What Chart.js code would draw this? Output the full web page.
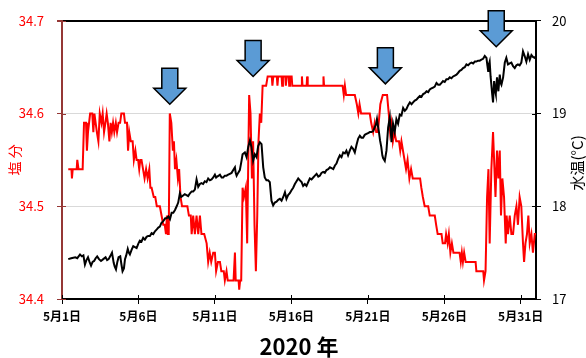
<!DOCTYPE html>
<html>
<head>
<meta charset="utf-8">
<script src="https://cdn.jsdelivr.net/npm/chart.js@4.4.0/dist/chart.umd.min.js"></script>
<style>
  html, body { margin: 0; padding: 0; background: #fff; }
</style>
</head>
<body>
<canvas id="chart" width="586" height="358"></canvas>
<script>
// days since 5/1 00:00, value
const salinity = [
  [0.41,34.54],[0.62,34.54],[0.65,34.53],[0.70,34.54],[0.96,34.54],[1.00,34.55],[1.08,34.54],[1.35,34.54],
  [1.44,34.59],[1.57,34.59],[1.63,34.56],[1.70,34.58],[1.84,34.60],[1.98,34.60],[2.05,34.58],[2.12,34.60],
  [2.20,34.59],[2.28,34.58],[2.38,34.57],[2.47,34.60],[2.58,34.59],[2.66,34.60],[2.75,34.58],[2.84,34.59],
  [2.92,34.60],[3.00,34.59],[3.10,34.57],[3.18,34.59],[3.26,34.58],[3.34,34.59],[3.42,34.58],[3.52,34.59],
  [3.60,34.58],[3.70,34.59],[3.80,34.59],[3.88,34.60],[4.05,34.60],[4.12,34.59],[4.25,34.59],[4.32,34.56],
  [4.40,34.58],[4.50,34.57],[4.62,34.57],[4.70,34.55],[4.80,34.56],[4.88,34.55],[4.98,34.55],[5.05,34.54],
  [5.12,34.55],[5.20,34.55],[5.30,34.54],[5.40,34.53],[5.50,34.54],[5.60,34.53],[5.71,34.54],[5.78,34.52],
  [5.86,34.52],[6.00,34.51],[6.10,34.51],[6.20,34.50],[6.40,34.50],[6.51,34.49],[6.62,34.48],[6.72,34.48],
  [6.80,34.47],[6.86,34.49],[6.92,34.47],[6.98,34.47],[7.05,34.60],[7.15,34.59],[7.25,34.56],[7.32,34.57],
  [7.39,34.54],[7.48,34.55],[7.58,34.53],[7.66,34.54],[7.75,34.51],[7.85,34.50],[8.20,34.50],[8.30,34.49],
  [8.42,34.49],[8.48,34.47],[8.58,34.49],[8.69,34.47],[8.80,34.49],[8.91,34.47],[9.02,34.49],[9.12,34.47],
  [9.30,34.47],[9.46,34.46],[9.56,34.44],[9.66,34.45],[9.76,34.44],[9.89,34.45],[10.00,34.45],[10.08,34.43],
  [10.20,34.44],[10.33,34.44],[10.42,34.43],[10.58,34.43],[10.65,34.42],[10.76,34.43],[10.84,34.42],[11.22,34.42],
  [11.31,34.45],[11.36,34.42],[11.55,34.42],[11.59,34.41],[11.65,34.42],[11.72,34.42],[11.81,34.52],[11.90,34.51],
  [12.02,34.52],[12.11,34.46],[12.24,34.62],[12.33,34.60],[12.42,34.53],[12.50,34.57],[12.59,34.48],[12.68,34.43],
  [12.77,34.49],[12.85,34.57],[12.94,34.60],[13.03,34.59],[13.12,34.63],[13.35,34.63],[13.45,34.64],[13.72,34.64],
  [13.76,34.63],[13.82,34.64],[14.05,34.64],[14.09,34.63],[14.14,34.64],[14.36,34.64],[14.40,34.63],[14.45,34.64],
  [14.60,34.64],[14.64,34.63],[14.69,34.64],[14.82,34.64],[14.86,34.63],[14.91,34.64],[15.02,34.64],[15.06,34.63],
  [15.66,34.63],[15.69,34.64],[15.73,34.63],[16.00,34.63],[16.03,34.64],[16.07,34.63],[17.07,34.63],[17.10,34.64],
  [17.14,34.63],[18.35,34.63],[18.43,34.62],[18.50,34.63],[18.58,34.62],[19.15,34.62],[19.28,34.61],[19.38,34.60],
  [19.46,34.61],[19.56,34.60],[20.13,34.60],[20.22,34.59],[20.35,34.58],[20.45,34.59],[20.55,34.58],[20.66,34.58],
  [20.82,34.61],[20.98,34.62],[21.10,34.62],[21.26,34.62],[21.37,34.60],[21.46,34.58],[21.55,34.59],[21.64,34.57],
  [21.74,34.58],[21.86,34.57],[22.04,34.57],[22.12,34.56],[22.20,34.57],[22.30,34.56],[22.40,34.55],[22.50,34.54],
  [22.60,34.55],[22.72,34.53],[22.83,34.54],[22.94,34.53],[23.42,34.53],[23.50,34.52],[23.60,34.51],[23.72,34.50],
  [23.95,34.50],[24.05,34.49],[24.38,34.49],[24.47,34.48],[24.57,34.47],[24.82,34.47],[24.90,34.46],[25.05,34.46],
  [25.12,34.47],[25.22,34.46],[25.30,34.47],[25.40,34.45],[25.50,34.46],[25.60,34.45],[26.00,34.45],[26.08,34.44],
  [26.15,34.45],[26.22,34.44],[26.30,34.45],[26.40,34.44],[27.05,34.44],[27.10,34.43],[27.55,34.43],[27.60,34.42],
  [27.70,34.43],[27.80,34.51],[27.89,34.54],[27.97,34.46],[28.08,34.54],[28.19,34.58],[28.26,34.55],[28.35,34.51],
  [28.45,34.56],[28.54,34.53],[28.63,34.56],[28.71,34.49],[28.80,34.53],[28.91,34.51],[29.02,34.46],[29.08,34.49],
  [29.17,34.47],[29.28,34.49],[29.39,34.47],[29.50,34.47],[29.61,34.49],[29.72,34.50],[29.82,34.48],[29.93,34.51],
  [30.04,34.50],[30.15,34.46],[30.22,34.44],[30.31,34.46],[30.41,34.47],[30.50,34.49],[30.59,34.46],[30.70,34.47],
  [30.80,34.45],[30.92,34.47],[31.00,34.47]
];

const waterTemp = [
  [0.41,17.43],[0.60,17.44],[0.87,17.45],[1.00,17.44],[1.18,17.48],[1.30,17.46],[1.40,17.47],[1.50,17.37],
  [1.60,17.42],[1.70,17.45],[1.80,17.40],[1.90,17.36],[2.00,17.40],[2.10,17.41],[2.20,17.44],[2.30,17.46],
  [2.42,17.43],[2.55,17.41],[2.70,17.43],[2.85,17.45],[2.95,17.42],[3.05,17.43],[3.15,17.46],[3.27,17.50],
  [3.38,17.39],[3.45,17.35],[3.53,17.32],[3.62,17.40],[3.70,17.45],[3.81,17.46],[3.88,17.38],[3.96,17.30],
  [4.05,17.33],[4.12,17.43],[4.20,17.47],[4.30,17.54],[4.37,17.50],[4.44,17.48],[4.55,17.53],[4.66,17.57],
  [4.77,17.56],[4.88,17.55],[5.00,17.60],[5.09,17.63],[5.20,17.62],[5.31,17.66],[5.42,17.64],[5.53,17.67],
  [5.64,17.68],[5.75,17.68],[5.86,17.71],[5.97,17.70],[6.08,17.73],[6.20,17.75],[6.30,17.77],[6.40,17.78],
  [6.50,17.82],[6.62,17.84],[6.75,17.87],[6.85,17.87],[6.95,17.89],[7.06,17.86],[7.17,17.93],[7.28,17.93],
  [7.39,17.96],[7.50,18.00],[7.60,18.04],[7.71,18.14],[7.80,18.10],[7.88,18.11],[8.03,18.13],[8.14,18.12],
  [8.25,18.11],[8.37,18.14],[8.48,18.16],[8.58,18.16],[8.69,18.18],[8.80,18.29],[8.91,18.21],[9.02,18.24],
  [9.12,18.25],[9.23,18.24],[9.34,18.27],[9.45,18.26],[9.56,18.30],[9.67,18.28],[9.78,18.29],[9.89,18.31],
  [10.00,18.34],[10.08,18.31],[10.15,18.32],[10.25,18.33],[10.33,18.34],[10.44,18.31],[10.54,18.31],[10.65,18.33],
  [10.76,18.33],[10.87,18.34],[10.98,18.35],[11.09,18.36],[11.20,18.39],[11.31,18.42],[11.36,18.36],[11.42,18.33],
  [11.52,18.36],[11.63,18.39],[11.74,18.49],[11.81,18.56],[11.96,18.58],[12.07,18.53],[12.18,18.64],[12.29,18.71],
  [12.39,18.64],[12.50,18.49],[12.61,18.56],[12.72,18.53],[12.83,18.65],[12.94,18.69],[13.05,18.67],[13.16,18.42],
  [13.26,18.31],[13.37,18.28],[13.48,18.28],[13.59,18.26],[13.70,18.06],[13.81,18.01],[13.92,18.04],[14.03,18.05],
  [14.14,18.07],[14.25,18.08],[14.36,18.06],[14.47,18.10],[14.58,18.15],[14.68,18.08],[14.79,18.12],[14.90,18.14],
  [15.00,18.17],[15.12,18.20],[15.23,18.24],[15.34,18.27],[15.45,18.30],[15.56,18.28],[15.67,18.26],[15.77,18.22],
  [15.88,18.24],[15.99,18.22],[16.10,18.26],[16.21,18.30],[16.32,18.29],[16.43,18.31],[16.54,18.33],[16.65,18.35],
  [16.76,18.32],[16.86,18.33],[16.97,18.36],[17.08,18.37],[17.19,18.36],[17.30,18.39],[17.41,18.40],[17.52,18.42],
  [17.63,18.41],[17.74,18.40],[17.85,18.44],[17.95,18.46],[18.06,18.51],[18.17,18.55],[18.28,18.53],[18.39,18.58],
  [18.50,18.57],[18.60,18.60],[18.71,18.55],[18.82,18.60],[18.93,18.64],[19.04,18.62],[19.15,18.58],[19.26,18.66],
  [19.37,18.73],[19.48,18.76],[19.58,18.74],[19.69,18.74],[19.80,18.77],[19.91,18.78],[20.02,18.79],[20.13,18.80],
  [20.24,18.80],[20.35,18.81],[20.45,18.85],[20.53,18.88],[20.60,18.94],[20.66,18.87],[20.72,18.81],[20.80,18.71],
  [20.88,18.64],[20.95,18.55],[21.00,18.52],[21.11,18.49],[21.22,18.60],[21.33,18.85],[21.44,18.96],[21.55,18.69],
  [21.65,18.89],[21.76,18.80],[21.87,18.94],[21.98,18.89],[22.09,18.99],[22.20,18.98],[22.31,19.06],[22.42,19.03],
  [22.53,19.05],[22.64,19.09],[22.75,19.12],[22.86,19.10],[22.96,19.12],[23.07,19.14],[23.18,19.15],[23.29,19.17],
  [23.40,19.19],[23.51,19.18],[23.62,19.21],[23.73,19.22],[23.84,19.24],[23.95,19.23],[24.05,19.26],[24.16,19.27],
  [24.27,19.28],[24.38,19.29],[24.49,19.33],[24.60,19.31],[24.71,19.31],[24.82,19.33],[24.92,19.35],[25.03,19.34],
  [25.14,19.37],[25.25,19.37],[25.36,19.39],[25.47,19.38],[25.58,19.40],[25.69,19.41],[25.80,19.42],[25.91,19.44],
  [26.01,19.46],[26.12,19.47],[26.23,19.49],[26.34,19.50],[26.45,19.53],[26.56,19.52],[26.67,19.54],[26.78,19.55],
  [26.89,19.54],[27.00,19.56],[27.10,19.56],[27.21,19.57],[27.32,19.57],[27.43,19.58],[27.54,19.59],[27.65,19.62],
  [27.76,19.60],[27.82,19.52],[27.87,19.46],[27.92,19.53],[27.97,19.56],[28.03,19.40],[28.08,19.31],[28.14,19.20],
  [28.19,19.12],[28.26,19.35],[28.32,19.25],[28.37,19.21],[28.45,19.39],[28.54,19.24],[28.63,19.42],[28.69,19.33],
  [28.74,19.31],[28.85,19.39],[28.96,19.55],[29.06,19.60],[29.17,19.53],[29.28,19.54],[29.39,19.55],[29.50,19.51],
  [29.61,19.49],[29.72,19.52],[29.82,19.53],[29.93,19.52],[30.04,19.55],[30.15,19.67],[30.26,19.62],[30.37,19.56],
  [30.48,19.64],[30.59,19.58],[30.70,19.63],[30.80,19.61],[30.92,19.60],[31.00,19.62]
];

// arrows: day and salinity value at the arrow tip
const arrowDays = [7.05, 12.5, 21.15, 28.4];
const arrowTips = [34.61, 34.64, 34.632, 34.672];

const salColor = "#ff0000";
const leftAxisColor = "#953735";

Chart.defaults.font.family = "'Noto Sans CJK JP', 'Noto Sans', sans-serif";

const near = (a, b) => Math.abs(a - b) < 1e-6;

// arrows, inner half of the cross ticks, right axis title
const extras = {
  id: "extras",
  afterDatasetsDraw(chart) {
    const { ctx, chartArea, scales } = chart;
    ctx.save();

    // inner tick marks
    ctx.lineWidth = 1;
    ctx.strokeStyle = "#000";
    scales.x.ticks.forEach((t) => {
      const px = Math.round(scales.x.getPixelForValue(t.value)) + 0.5;
      ctx.beginPath();
      ctx.moveTo(px, chartArea.bottom);
      ctx.lineTo(px, chartArea.bottom - 4);
      ctx.stroke();
    });
    scales.y2.ticks.forEach((t) => {
      const py = Math.round(scales.y2.getPixelForValue(t.value)) + 0.5;
      ctx.beginPath();
      ctx.moveTo(chartArea.right, py);
      ctx.lineTo(chartArea.right - 4, py);
      ctx.stroke();
    });
    ctx.strokeStyle = leftAxisColor;
    scales.y.ticks.forEach((t) => {
      const py = Math.round(scales.y.getPixelForValue(t.value)) + 0.5;
      ctx.beginPath();
      ctx.moveTo(chartArea.left, py);
      ctx.lineTo(chartArea.left + 4, py);
      ctx.stroke();
    });

    // arrows
    ctx.fillStyle = "#5b9bd5";
    ctx.strokeStyle = "#000";
    ctx.lineWidth = 1.5;
    ctx.lineJoin = "miter";
    arrowDays.forEach((d, i) => {
      const cx = scales.x.getPixelForValue(d);
      const tip = scales.y.getPixelForValue(arrowTips[i]);
      const top = tip - 36, neck = tip - 16;
      ctx.beginPath();
      ctx.moveTo(cx - 8, top);
      ctx.lineTo(cx + 8, top);
      ctx.lineTo(cx + 8, neck);
      ctx.lineTo(cx + 16, neck);
      ctx.lineTo(cx, tip);
      ctx.lineTo(cx - 16, neck);
      ctx.lineTo(cx - 8, neck);
      ctx.closePath();
      ctx.fill();
      ctx.stroke();
    });

    // right title, reads bottom to top
    ctx.fillStyle = "#000";
    ctx.font = "15px 'Noto Sans CJK JP'";
    ctx.textAlign = "center";
    ctx.textBaseline = "middle";
    ctx.translate(577, (chartArea.top + chartArea.bottom) / 2 + 3);
    ctx.rotate(-Math.PI / 2);
    ctx.fillText("水温(°C)", 0, 0);
    ctx.restore();
  }
};

new Chart(document.getElementById("chart"), {
  type: "line",
  data: {
    datasets: [
      {
        label: "水温",
        data: waterTemp.map(([d, v]) => ({ x: d, y: v })),
        yAxisID: "y2",
        borderColor: "#000",
        borderWidth: 2,
        pointRadius: 0,
        tension: 0
      },
      {
        label: "塩分",
        data: salinity.map(([d, v]) => ({ x: d, y: v })),
        yAxisID: "y",
        borderColor: salColor,
        borderWidth: 2,
        pointRadius: 0,
        tension: 0
      }
    ]
  },
  options: {
    responsive: false,
    animation: false,
    devicePixelRatio: 1,
    layout: { padding: { top: 19, left: 0, right: 0, bottom: 0 } },
    plugins: { legend: { display: false }, tooltip: { enabled: false } },
    scales: {
      x: {
        type: "linear",
        min: 0,
        max: 31,
        afterFit: (s) => { s.height = 59; },
        ticks: {
          stepSize: 5,
          includeBounds: false,
          autoSkip: false,
          maxRotation: 0,
          padding: 5,
          color: "#000",
          font: { size: 12, weight: "bold" },
          callback: (v) => `5月${v + 1}日`
        },
        grid: { drawOnChartArea: false, tickLength: 5, tickColor: "#000" },
        border: { color: "#000", width: 2 },
        title: {
          display: true,
          text: "2020 年",
          color: "#000",
          font: { size: 22, weight: "bold", lineHeight: 1 },
          padding: { top: 0, bottom: 0 }
        }
      },
      y: {
        position: "left",
        min: 34.4,
        max: 34.7,
        afterFit: (s) => { s.width = 62; },
        ticks: {
          stepSize: 0.1,
          padding: 13,
          color: salColor,
          font: { size: 13 },
          callback: (v) => v.toFixed(1)
        },
        grid: {
          color: (c) => near(c.tick.value, 34.7) ? "#000" : near(c.tick.value, 34.4) ? "rgba(0,0,0,0)" : "#d9d9d9",
          lineWidth: (c) => near(c.tick.value, 34.7) ? 2 : 1,
          tickColor: leftAxisColor,
          tickLength: 5
        },
        border: { color: leftAxisColor, width: 2 },
        title: {
          display: true,
          text: "塩 分",
          color: salColor,
          font: { size: 14, lineHeight: 1 },
          padding: { top: 8, bottom: 0 }
        }
      },
      y2: {
        position: "right",
        min: 17,
        max: 20,
        afterFit: (s) => { s.width = 50; },
        ticks: { stepSize: 1, padding: 11, color: "#000", font: { size: 13 } },
        grid: { drawOnChartArea: false, tickLength: 5, tickColor: "#000" },
        border: { color: "#000", width: 2 }
      }
    }
  },
  plugins: [extras]
});
</script>
</body>
</html>
